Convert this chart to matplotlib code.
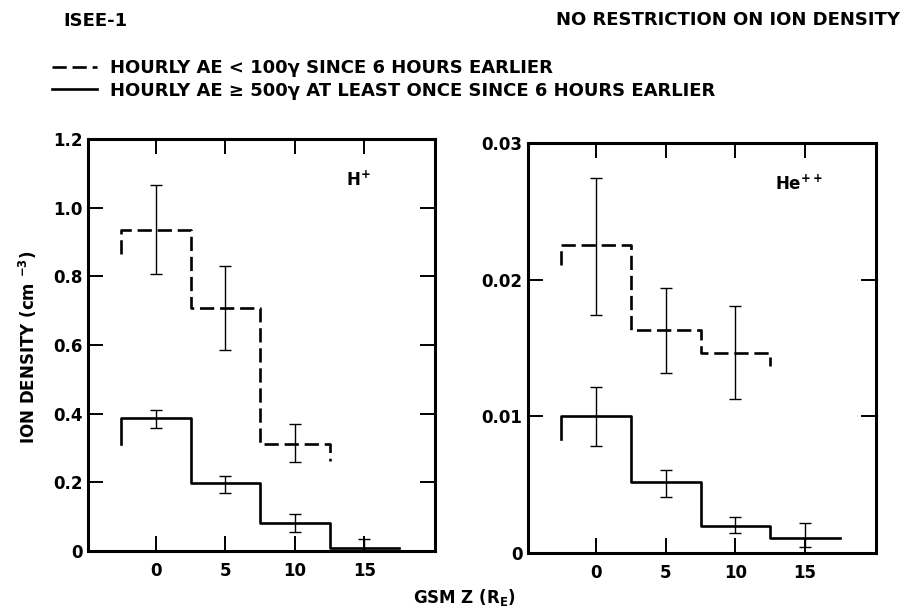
"""ISEE-1 ion density vs GSM Z, step histograms with error bars."""
import numpy as np, matplotlib; matplotlib.use("Agg")
import matplotlib.pyplot as plt

plt.rcParams.update({"font.family": "DejaVu Sans", "font.weight": "bold", "font.size": 12,
                     "mathtext.fontset": "dejavusans"})

# bin edges (GSM Z, R_E) and bin centres
edges_quiet = [-2.5, 2.5, 7.5, 12.5]
edges_active = [-2.5, 2.5, 7.5, 12.5, 17.5]

# H+ panel
h_quiet = [0.936, 0.708, 0.313]
h_quiet_stub = [0.866, 0.263]          # open ends of the dashed outline
h_quiet_lo = [0.808, 0.585, 0.258]
h_quiet_hi = [1.065, 0.829, 0.371]
h_active = [0.386, 0.197, 0.083, 0.008]
h_active_stub = [0.313, 0.008]
h_active_lo = [0.357, 0.170, 0.054, -0.02]
h_active_hi = [0.410, 0.218, 0.107, 0.034]

# He++ panel
he_quiet = [0.02256, 0.01634, 0.01467]
he_quiet_stub = [0.0211, 0.01365]
he_quiet_lo = [0.01744, 0.01316, 0.01126]
he_quiet_hi = [0.02745, 0.0194, 0.01804]
he_active = [0.00999, 0.00523, 0.0020, 0.00107]
he_active_stub = [0.00833, 0.00107]
he_active_lo = [0.00786, 0.00413, 0.00144, 0.00042]
he_active_hi = [0.01214, 0.00608, 0.00261, 0.00222]

x_ticks = [0, 5, 10, 15]
h_yticks = [0, 0.2, 0.4, 0.6, 0.8, 1.0, 1.2]
h_ylabels = ["0", "0.2", "0.4", "0.6", "0.8", "1.0", "1.2"]
he_yticks = [0, 0.01, 0.02, 0.03]
he_ylabels = ["0", "0.01", "0.02", "0.03"]

DASH = (0, (5.4, 2.2))


def outline(edges, levels, stub):
    xs, ys = [edges[0]], [stub[0]]
    for i, v in enumerate(levels):
        xs += [edges[i], edges[i + 1]]
        ys += [v, v]
    xs.append(edges[-1]); ys.append(stub[1])
    return xs, ys


def panel(ax, quiet, qstub, qlo, qhi, active, astub, alo, ahi, yticks, ylabels, tag):
    centers_q = [(edges_quiet[i] + edges_quiet[i + 1]) / 2 for i in range(len(quiet))]
    centers_a = [(edges_active[i] + edges_active[i + 1]) / 2 for i in range(len(active))]
    xs, ys = outline(edges_quiet, quiet, qstub)
    lq, = ax.plot(xs, ys, color="black", lw=1.9, linestyle=DASH)
    xs, ys = outline(edges_active, active, astub)
    la, = ax.plot(xs, ys, color="black", lw=1.9)
    for c, v, lo, hi in zip(centers_q + centers_a, quiet + active, qlo + alo, qhi + ahi):
        ax.errorbar([c], [v], yerr=[[v - lo], [hi - v]], fmt="none", ecolor="black",
                    elinewidth=1.0, capsize=4.3, capthick=1.0)
    ax.set_xlim(-4.9, 20.1)
    ax.set_ylim(yticks[0], yticks[-1])
    ax.set_xticks(x_ticks); ax.set_xticklabels([str(t) for t in x_ticks])
    ax.set_yticks(yticks); ax.set_yticklabels(ylabels)
    ax.tick_params(direction="in", length=11, width=1.4, top=True, right=True,
                   labelsize=12)
    ax.tick_params(axis="x", pad=8)
    ax.tick_params(axis="y", pad=4)
    for lab in ax.get_xticklabels() + ax.get_yticklabels():
        lab.set_fontweight("bold")
    for s in ax.spines.values():
        s.set_linewidth(2.2)
    ax.text(0.78, 0.9, tag, transform=ax.transAxes, fontsize=12, fontweight="bold",
            ha="center", va="center")
    return lq, la


fig = plt.figure(figsize=(9.1, 6.09), dpi=100)
W, H = 910, 609
ax1 = fig.add_axes([88 / W, 1 - 551 / H, 347 / W, 412 / H])
ax2 = fig.add_axes([528 / W, 1 - 553 / H, 348 / W, 410 / H])

lq, la = panel(ax1, h_quiet, h_quiet_stub, h_quiet_lo, h_quiet_hi,
               h_active, h_active_stub, h_active_lo, h_active_hi,
               h_yticks, h_ylabels, r"$\mathbf{H^{+}}$")
panel(ax2, he_quiet, he_quiet_stub, he_quiet_lo, he_quiet_hi,
      he_active, he_active_stub, he_active_lo, he_active_hi,
      he_yticks, he_ylabels, r"$\mathbf{He^{++}}$")

fig.text(63 / W, 1 - 21 / H, "ISEE-1", fontsize=13, fontweight="bold", ha="left", va="center")
fig.text(900 / W, 1 - 20 / H, "NO RESTRICTION ON ION DENSITY", fontsize=13,
         fontweight="bold", ha="right", va="center")
fig.legend([lq, la],
           ["HOURLY AE < 100\u03b3 SINCE 6 HOURS EARLIER",
            "HOURLY AE \u2265 500\u03b3 AT LEAST ONCE SINCE 6 HOURS EARLIER"],
           loc="upper left", bbox_to_anchor=(52 / W, 1 - 59 / H), frameon=False,
           prop={"size": 13, "weight": "bold"}, handlelength=2.5, handletextpad=0.7,
           labelspacing=0.25, borderpad=0, borderaxespad=0)

fig.text(28 / W, 1 - 347 / H, r"ION DENSITY (cm $\mathbf{^{-3}}$)", rotation=90, fontsize=12,
         fontweight="bold", ha="center", va="center")
fig.text(464 / W, 1 - 598 / H, r"GSM Z ($\mathbf{R_E}$)", fontsize=12, fontweight="bold",
         ha="center", va="center")

fig.savefig("out.png", dpi=100)
